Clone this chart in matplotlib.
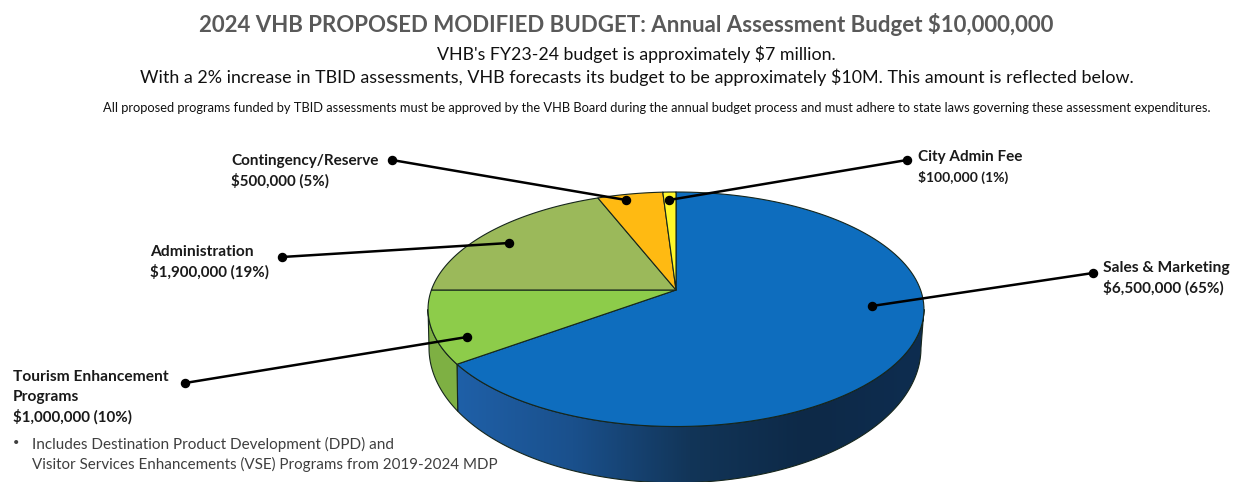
import numpy as np
import matplotlib
matplotlib.use("Agg")
import matplotlib.pyplot as plt
from matplotlib.patches import Polygon
from matplotlib.colors import LinearSegmentedColormap

# ---- data (clockwise from 12 o'clock) ----
categories = ["Sales & Marketing", "Tourism Enhancement Programs", "Administration",
              "Contingency/Reserve", "City Admin Fee"]
amounts = [6500000, 1000000, 1900000, 500000, 100000]
amount_labels = ["$6,500,000 (65%)", "$1,000,000 (10%)", "$1,900,000 (19%)",
                 "$500,000 (5%)", "$100,000 (1%)"]
top_colors = ["#0E6DBE", "#8DCC4A", "#9BB95A", "#FFBA12", "#FFF72A"]
title = "2024 VHB PROPOSED MODIFIED BUDGET: Annual Assessment Budget $10,000,000"
line1 = "VHB's FY23-24 budget is approximately $7 million."
line2 = "With a 2% increase in TBID assessments, VHB forecasts its budget to be approximately $10M. This amount is reflected below."
line3 = ("All proposed programs funded by TBID assessments must be approved by the VHB Board during "
         "the annual budget process and must adhere to state laws governing these assessment expenditures.")
note1 = "Includes Destination Product Development (DPD) and"
note2 = "Visitor Services Enhancements (VSE) Programs from 2019-2024 MDP"

# ---- layout ----
W, H = 1237, 482
CX, CY, A, B, K = 676.0, 290.0, 244.6, 114.1, 0.1642
FONT = "Lato"
# lower rim of the wall, as an ellipse fitted to the reference
LOW_CX, LOW_CY, LOW_SX, LOW_SY = 675.0, 348.0, 0.992, 1.15

fig = plt.figure(figsize=(W / 100, H / 100), dpi=100, facecolor="white")
ax = fig.add_axes([0, 0, 1, 1])
ax.set_xlim(0, W)
ax.set_ylim(H, 0)
ax.axis("off")


def project(theta_deg):
    t = np.radians(theta_deg)
    x, y = np.sin(t), np.cos(t)
    d = 1 + K * y
    return CX + A * x / d, CY - B * y / d


def lower(theta_deg):
    x, y = project(theta_deg)
    ye = CY + B * K / (1 - K ** 2)
    return LOW_CX + (x - CX) * LOW_SX, LOW_CY + (y - ye) * LOW_SY


def arc(a0, a1, n=120):
    th = np.linspace(a0, a1, n)
    return np.column_stack(project(th))


edges = np.concatenate([[0], np.cumsum(amounts)]) / np.sum(amounts) * 360
EDGE = "#16261c"

# visible part of the side wall: from the right tangent to the left tangent
vis0 = np.degrees(np.arccos(-K))
vis1 = 360 - vis0


def side_path(a0, a1):
    th = np.linspace(a0, a1, 120)
    upper = np.column_stack(project(th))
    low = np.column_stack(lower(th[::-1]))
    return np.vstack([upper, low])


# blue wall with left-to-right shading
a0, a1 = max(edges[0], vis0), min(edges[1], vis1)
poly = Polygon(side_path(a0, a1), closed=True, fc="none", ec=EDGE, lw=0.8, zorder=2)
ax.add_patch(poly)
cmap = LinearSegmentedColormap.from_list("wall", ["#1F60A8", "#1A508C", "#123558", "#0D2947", "#0E2D50"])
grad = np.linspace(0, 1, 256).reshape(1, -1)
im = ax.imshow(grad, cmap=cmap, extent=(456, 924, 482, 300), aspect="auto", zorder=1.5)
im.set_clip_path(poly)
ax.set_xlim(0, W)
ax.set_ylim(H, 0)

# green wall
a0, a1 = max(edges[1], vis0), min(edges[2], vis1)
ax.add_patch(Polygon(side_path(a0, a1), closed=True, fc="#7EB043", ec=EDGE, lw=0.8, zorder=2))

# top face
for i, c in enumerate(top_colors):
    pts = np.vstack([[CX, CY], arc(edges[i], edges[i + 1])])
    ax.add_patch(Polygon(pts, closed=True, fc=c, ec=EDGE, lw=0.8, zorder=3, joinstyle="round"))

# leaders: (slice end, label end)
leaders = [((872, 306), (1093, 273)), ((467, 337), (185, 383)), ((509, 243), (282, 257)),
           ((626, 200), (392, 160)), ((669, 200), (907, 160))]
for p, q in leaders:
    ax.plot([p[0], q[0]], [p[1], q[1]], color="black", lw=1.8, zorder=5, solid_capstyle="round")
    ax.plot([p[0], q[0]], [p[1], q[1]], ls="none", marker="o", ms=5.8, color="black", zorder=6)

fig.canvas.draw()
rend = fig.canvas.get_renderer()


def fit(x, y, s, width, size, color, weight="normal", ha="left"):
    t = ax.text(x, y, s, fontsize=size, color=color, fontweight=weight, ha=ha, va="center",
                family=FONT, zorder=7)
    t.set_fontsize(size * width / t.get_window_extent(rend).width)
    return t


fit(626, 24, title, 858, 16, "#595959", "bold", "center")
fit(636, 54, line1, 398, 12, "#111111", "normal", "center")
fit(637, 77, line2, 990, 12, "#111111", "normal", "center")
fit(657, 107.5, line3, 1110, 7, "#111111", "normal", "center")

DARK = "#1a1a1a"
fit(1103, 268, categories[0], 127, 9.5, DARK, "bold")
fit(1103, 288, amount_labels[0], 121, 9.5, DARK, "bold")
fit(13, 377, "Tourism Enhancement", 155, 9.5, DARK, "bold")
fit(13, 397, "Programs", 66, 9.5, DARK, "bold")
fit(13, 417, amount_labels[1], 120, 9.5, DARK, "bold")
fit(150, 252, categories[2], 104, 9.5, DARK, "bold")
fit(150, 272, amount_labels[2], 120, 9.5, DARK, "bold")
fit(231, 161, categories[3], 148, 9.5, DARK, "bold")
fit(231, 181, amount_labels[3], 99, 9.5, DARK, "bold")
fit(918, 157, categories[4], 105, 9.5, DARK, "bold")
fit(918, 177, amount_labels[4], 91, 9.5, DARK, "bold")

GREY = "#3f3f3f"
ax.text(16, 443, "\u2022", fontsize=8, color=GREY, ha="center", va="center", family=FONT)
fit(32, 444, note1, 364, 9.5, GREY)
fit(32, 464, note2, 466, 9.5, GREY)

fig.savefig("out.png", dpi=100, facecolor="white")
